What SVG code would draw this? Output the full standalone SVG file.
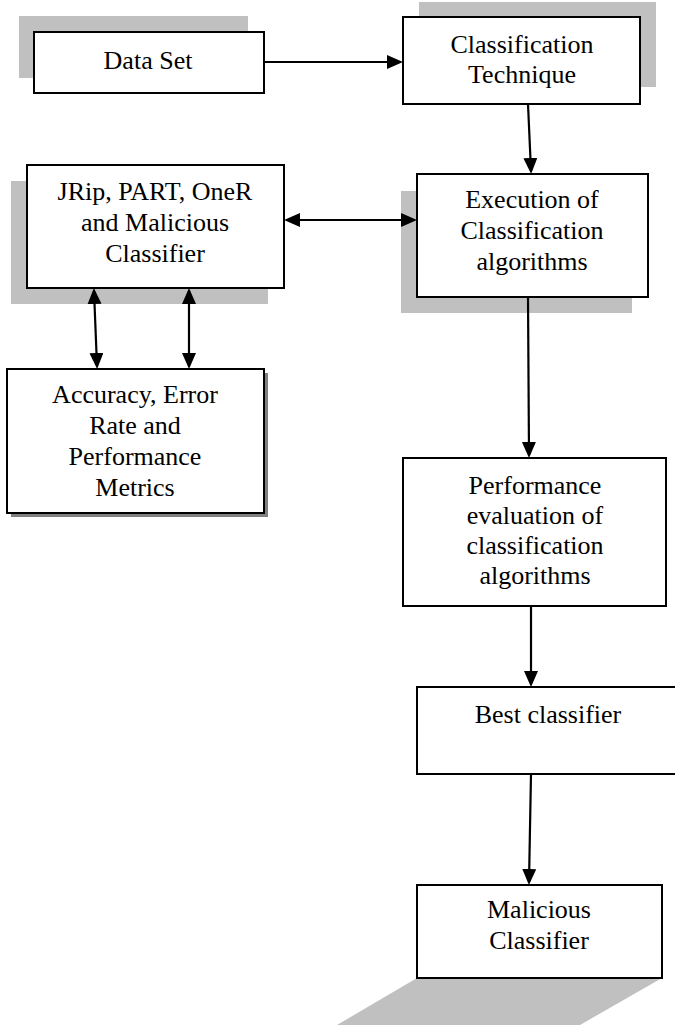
<svg xmlns="http://www.w3.org/2000/svg" width="675" height="1025" viewBox="0 0 675 1025">
<style>
.box{fill:#fff;stroke:#000;stroke-width:2}
.sh{fill:#c0c0c0}
.t{font-family:"Liberation Serif","Times New Roman",serif;font-size:26px;fill:#000;text-anchor:middle}
.c{stroke:#000;stroke-width:2.2;fill:none}
.one{marker-end:url(#ah)}
.two{marker-start:url(#ah);marker-end:url(#ah)}
</style>
<defs>
<marker id="ah" markerUnits="userSpaceOnUse" markerWidth="17" markerHeight="15" refX="13" refY="7" orient="auto-start-reverse">
<path d="M0,0 L16,7 L0,14 z" fill="#000"/>
</marker>
</defs>
<rect width="675" height="1025" fill="#fff"/>

<g id="data-set">
<rect class="sh" x="19" y="16" width="229" height="62"/>
<rect class="box" x="34" y="32" width="230" height="61"/>
<text class="t" x="148" y="69">Data Set</text>
</g>

<g id="classification-technique">
<rect class="sh" x="419" y="2" width="237" height="85"/>
<rect class="box" x="403" y="17" width="237" height="87"/>
<text class="t" x="522" y="53">Classification</text>
<text class="t" x="522" y="83">Technique</text>
</g>

<g id="jrip">
<rect class="sh" x="11" y="181" width="257" height="123"/>
<rect class="box" x="27" y="165" width="257" height="123"/>
<text class="t" x="155" y="200">JRip, PART, OneR</text>
<text class="t" x="155" y="231">and Malicious</text>
<text class="t" x="155" y="262">Classifier</text>
</g>

<g id="execution">
<rect class="sh" x="401" y="191" width="231" height="122"/>
<rect class="box" x="417" y="174" width="231" height="123"/>
<text class="t" x="532" y="208">Execution of</text>
<text class="t" x="532" y="239">Classification</text>
<text class="t" x="532" y="270">algorithms</text>
</g>

<g id="accuracy">
<rect x="11" y="373" width="257" height="144" fill="#808080"/>
<rect class="box" x="7" y="369" width="257" height="144"/>
<text class="t" x="135" y="403">Accuracy, Error</text>
<text class="t" x="135" y="434">Rate and</text>
<text class="t" x="135" y="465">Performance</text>
<text class="t" x="135" y="496">Metrics</text>
</g>

<g id="performance">
<rect class="box" x="403" y="458" width="263" height="148"/>
<text class="t" x="535" y="494">Performance</text>
<text class="t" x="535" y="524">evaluation of</text>
<text class="t" x="535" y="554">classification</text>
<text class="t" x="535" y="584">algorithms</text>
</g>

<g id="best-classifier">
<rect class="box" x="417" y="687" width="263" height="87"/>
<text class="t" x="548" y="723">Best classifier</text>
</g>

<g id="malicious-classifier">
<polygon class="sh" points="417,978 662,978 580,1025 337,1025"/>
<rect class="box" x="417" y="885" width="245" height="93"/>
<text class="t" x="539" y="918">Malicious</text>
<text class="t" x="539" y="949">Classifier</text>
</g>

<g id="connectors">
<line class="c one" x1="264" y1="62" x2="400" y2="62"/>
<line class="c one" x1="528" y1="104" x2="531" y2="171"/>
<line class="c two" x1="287" y1="220" x2="414" y2="220"/>
<line class="c two" x1="94" y1="291" x2="97" y2="366"/>
<line class="c two" x1="189" y1="291" x2="189" y2="366"/>
<line class="c one" x1="528" y1="297" x2="529" y2="455"/>
<line class="c one" x1="531" y1="606" x2="531" y2="684"/>
<line class="c one" x1="531" y1="774" x2="529" y2="882"/>
</g>
</svg>
